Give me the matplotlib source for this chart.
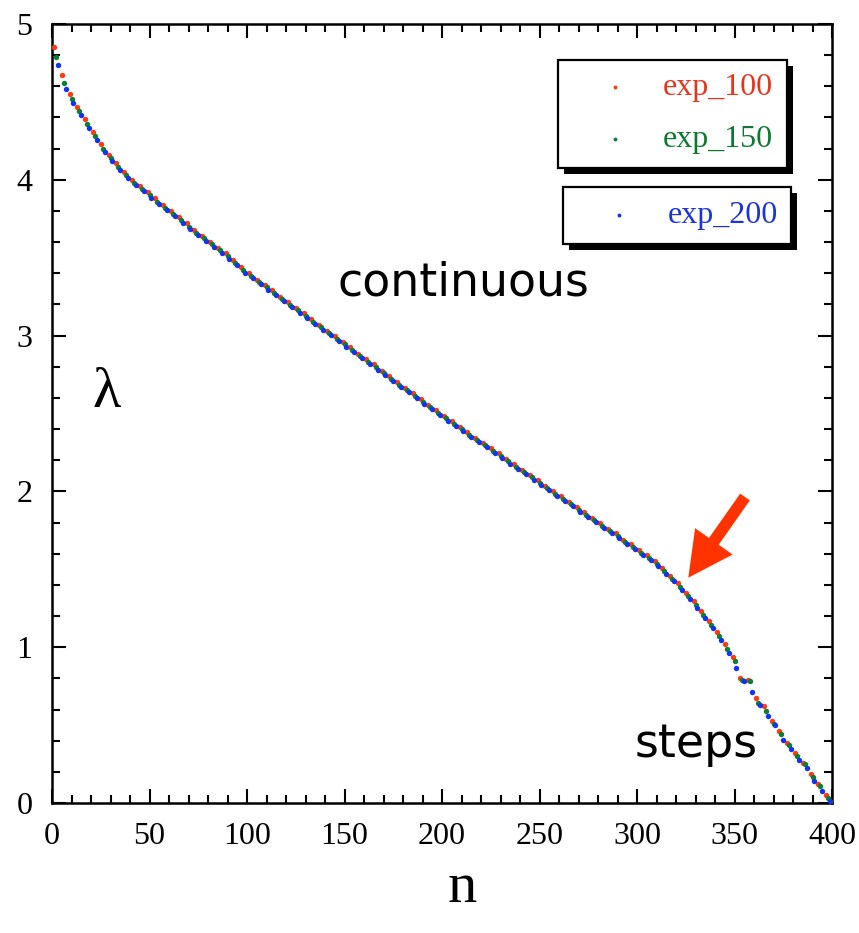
import matplotlib
matplotlib.use("Agg")
import matplotlib.pyplot as plt
from matplotlib.patches import Rectangle
from matplotlib.ticker import MultipleLocator


W, H = 859, 933

n_100 = list(range(1, 398, 4)) + [400]
lam_100 = [
    4.85, 4.67, 4.55, 4.47, 4.39, 4.31, 4.23, 4.16, 4.11, 4.05,
    4.00, 3.96, 3.92, 3.88, 3.84, 3.80, 3.76, 3.72, 3.68, 3.64,
    3.60, 3.565, 3.53, 3.485, 3.44, 3.40, 3.36, 3.325, 3.29, 3.25,
    3.215, 3.18, 3.145, 3.105, 3.07, 3.03, 2.995, 2.96, 2.925, 2.885,
    2.85, 2.815, 2.775, 2.74, 2.705, 2.665, 2.63, 2.595, 2.555, 2.52,
    2.485, 2.45, 2.415, 2.38, 2.345, 2.31, 2.28, 2.245, 2.21, 2.175,
    2.14, 2.105, 2.07, 2.035, 2.005, 1.97, 1.935, 1.90, 1.865, 1.83,
    1.795, 1.76, 1.73, 1.69, 1.66, 1.625, 1.59, 1.555, 1.51, 1.46,
    1.41, 1.35, 1.295, 1.23, 1.165, 1.10, 1.02, 0.94, 0.80, 0.79,
    0.675, 0.62, 0.525, 0.46, 0.385, 0.32, 0.255, 0.185, 0.12, 0.05,
    0.0,
]

n_150 = list(range(2, 399, 4)) + [400]
lam_150 = [
    4.79, 4.62, 4.52, 4.44, 4.36, 4.28, 4.20, 4.14, 4.084, 4.028,
    3.98, 3.94, 3.90, 3.86, 3.82, 3.78, 3.74, 3.70, 3.66, 3.624,
    3.586, 3.548, 3.51, 3.466, 3.422, 3.382, 3.345, 3.309, 3.272, 3.235,
    3.199, 3.162, 3.126, 3.089, 3.052, 3.016, 2.979, 2.943, 2.906, 2.869,
    2.833, 2.796, 2.76, 2.723, 2.686, 2.65, 2.613, 2.577, 2.54, 2.503,
    2.468, 2.433, 2.399, 2.365, 2.33, 2.296, 2.261, 2.227, 2.193, 2.158,
    2.124, 2.09, 2.055, 2.021, 1.986, 1.952, 1.918, 1.883, 1.849, 1.814,
    1.78, 1.746, 1.711, 1.677, 1.642, 1.607, 1.572, 1.537, 1.488, 1.439,
    1.386, 1.328, 1.27, 1.206, 1.142, 1.07, 0.99, 0.91, 0.79, 0.78,
    0.64, 0.59, 0.51, 0.44, 0.375, 0.30, 0.25, 0.165, 0.11, 0.03,
    0.0,
]

n_200 = list(range(3, 400, 4))
lam_200 = [
    4.74, 4.585, 4.495, 4.415, 4.335, 4.255, 4.18, 4.12, 4.065, 4.01,
    3.965, 3.925, 3.885, 3.845, 3.805, 3.765, 3.725, 3.685, 3.647, 3.61,
    3.57, 3.533, 3.494, 3.45, 3.405, 3.368, 3.331, 3.294, 3.258, 3.221,
    3.185, 3.148, 3.111, 3.075, 3.038, 3.002, 2.965, 2.928, 2.892, 2.855,
    2.819, 2.782, 2.745, 2.709, 2.672, 2.636, 2.599, 2.562, 2.526, 2.489,
    2.454, 2.42, 2.385, 2.351, 2.317, 2.282, 2.248, 2.214, 2.179, 2.145,
    2.11, 2.076, 2.042, 2.007, 1.973, 1.939, 1.904, 1.87, 1.835, 1.801,
    1.767, 1.732, 1.698, 1.663, 1.629, 1.594, 1.559, 1.52, 1.471, 1.422,
    1.366, 1.309, 1.249, 1.185, 1.121, 1.045, 0.965, 0.865, 0.785, 0.715,
    0.63, 0.56, 0.50, 0.405, 0.345, 0.275, 0.225, 0.14, 0.08, 0.015,
]

series = [
    ("exp_100", n_100, lam_100, "#ff3a10", "#e8341c"),
    ("exp_150", n_150, lam_150, "#0a8030", "#0b7a2e"),
    ("exp_200", n_200, lam_200, "#1034f0", "#1a33e0"),
]

SERIF = "Liberation Serif"
HAND = "DejaVu Sans"


def fpx(x, y):
    # pixel position (from top-left) -> figure fraction
    return x / W, 1 - y / H


fig = plt.figure(figsize=(W / 100, H / 100), dpi=100)
ax = fig.add_axes([52 / W, 1 - 803 / H, 780 / W, 779 / H])

for name, n, lam, col, _ in series:
    ax.plot(n, lam, "o", color=col, markersize=3.9, markeredgewidth=0, zorder=3)

ax.set_xlim(0, 400)
ax.set_ylim(0, 5)
ax.xaxis.set_major_locator(MultipleLocator(50))
ax.xaxis.set_minor_locator(MultipleLocator(10))
ax.yaxis.set_major_locator(MultipleLocator(1))
ax.yaxis.set_minor_locator(MultipleLocator(0.2))
ax.tick_params(which="both", direction="in", top=True, right=True, width=1.5)
ax.tick_params(which="major", length=10)
ax.tick_params(which="minor", length=5.5)
ax.tick_params(axis="x", pad=14)
ax.tick_params(axis="y", pad=14)
for lab in ax.get_xticklabels() + ax.get_yticklabels():
    lab.set_fontfamily(SERIF)
    lab.set_fontsize(23)
for sp in ax.spines.values():
    sp.set_linewidth(1.8)

# axis labels
fig.text(*fpx(462, 902), "n", family=SERIF, fontsize=42, ha="center", va="baseline")
fig.text(*fpx(107, 407), "\u03bb", family=SERIF, fontsize=42, ha="center", va="baseline")

# annotations
ax.text(*ax.transData.inverted().transform(fig.transFigure.transform(fpx(337, 295))),
        "continuous", family=HAND, fontsize=33, ha="left", va="baseline")
ax.text(*ax.transData.inverted().transform(fig.transFigure.transform(fpx(635, 757))),
        "steps", family=HAND, fontsize=33, ha="left", va="baseline")
ax.annotate("", xy=(326.3, 1.446), xytext=(355.4, 1.964),
            arrowprops=dict(arrowstyle="simple,head_length=3.2,head_width=3.3,tail_width=0.85",
                            color="#ff3300", lw=0, shrinkA=0, shrinkB=0))

# legend boxes with drop shadow
boxes = [(558, 60, 787, 168), (563, 187, 791, 244)]
for x0, y0, x1, y1 in boxes:
    sx, sy = fpx(x0 + 6, y1 + 6)
    fig.patches.append(Rectangle((sx, sy), (x1 - x0) / W, (y1 - y0) / H,
                                 transform=fig.transFigure, facecolor="black",
                                 edgecolor="none", zorder=5))
    bx, by = fpx(x0, y1)
    fig.patches.append(Rectangle((bx, by), (x1 - x0) / W, (y1 - y0) / H,
                                 transform=fig.transFigure, facecolor="white",
                                 edgecolor="black", linewidth=1.6, zorder=6))

entries = [(615, 87, 663), (615, 139, 663), (619, 215, 668)]
for (name, _, _, col, tcol), (dx, dy, tx) in zip(series, entries):
    fig.lines.append(plt.Line2D([dx / W], [1 - dy / H], marker="o", color=col,
                                markersize=2.8, markeredgewidth=0,
                                transform=fig.transFigure, zorder=7))
    fig.text(*fpx(tx, dy), name, family=SERIF, fontsize=23, color=tcol,
             ha="left", va="center", zorder=7)

fig.savefig("out.png", dpi=100)
